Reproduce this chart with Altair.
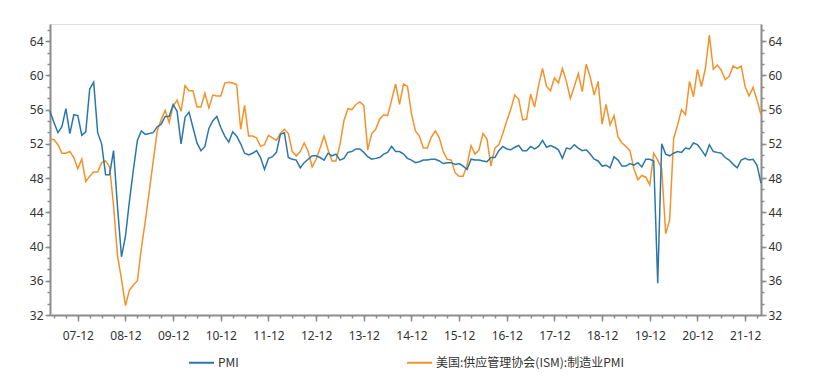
import altair as alt
import pandas as pd

# ---- data (monthly, 2007-05 .. 2022-04) ----
start_year, start_month = 2007, 5
series_names = ["PMI", "美国:供应管理协会(ISM):制造业PMI"]
colors = ["#2B77AA", "#F4922A"]

pmi = [55.8, 54.5, 53.3, 54.0, 56.1, 53.2, 55.4, 55.3,
       53.0, 53.4, 58.4, 59.2, 53.3, 52.0, 48.4, 48.4, 51.2, 44.6, 38.8, 41.2,
       45.3, 49.0, 52.4, 53.5, 53.1, 53.2, 53.3, 54.0, 54.3, 55.2, 55.2, 56.6,
       55.8, 52.0, 55.1, 55.7, 53.9, 52.1, 51.2, 51.7, 53.8, 54.7, 55.2, 53.9,
       52.9, 52.2, 53.4, 52.9, 52.0, 50.9, 50.7, 50.9, 51.2, 50.4, 49.0, 50.3,
       50.5, 51.0, 53.1, 53.3, 50.4, 50.2, 50.1, 49.2, 49.8, 50.2, 50.6, 50.6,
       50.4, 50.1, 50.9, 50.6, 50.8, 50.1, 50.3, 51.0, 51.1, 51.4, 51.4, 51.0,
       50.5, 50.2, 50.3, 50.4, 50.8, 51.0, 51.7, 51.1, 51.1, 50.8, 50.3, 50.1,
       49.8, 49.9, 50.1, 50.1, 50.2, 50.2, 50.0, 49.7, 49.8, 49.8, 49.6, 49.7,
       49.4, 49.0, 50.2, 50.1, 50.1, 50.0, 49.9, 50.4, 50.4, 51.2, 51.7, 51.4,
       51.3, 51.6, 51.8, 51.2, 51.2, 51.7, 51.4, 51.7, 52.4, 51.6, 51.8, 51.6,
       51.3, 50.3, 51.5, 51.4, 51.9, 51.5, 51.2, 51.3, 50.8, 50.2, 50.0, 49.4,
       49.5, 49.2, 50.5, 50.1, 49.4, 49.4, 49.7, 49.5, 49.8, 49.3, 50.2, 50.2,
       50.0, 35.7, 52.0, 50.8, 50.6, 50.9, 51.1, 51.0, 51.5, 51.4, 52.1, 51.9,
       51.3, 50.6, 51.9, 51.1, 51.0, 50.9, 50.4, 50.1, 49.6, 49.2, 50.1, 50.3,
       50.1, 50.2, 49.5, 47.4]

ism = [52.5, 52.5, 51.9, 50.9, 50.9, 51.1, 50.4, 49.1,
       50.2, 47.6, 48.2, 48.7, 48.7, 49.8, 50.0, 49.3, 44.8, 38.9, 36.2, 33.1,
       34.9, 35.5, 36.0, 39.8, 43.0, 46.5, 50.0, 53.5, 54.8, 55.9, 54.5, 56.4,
       57.1, 55.8, 58.8, 58.2, 58.2, 56.3, 56.3, 57.9, 56.2, 57.7, 57.6, 57.6,
       59.1, 59.2, 59.1, 58.9, 53.7, 56.5, 52.9, 52.9, 52.7, 51.7, 51.9, 53.0,
       52.7, 52.4, 53.2, 53.7, 53.2, 51.1, 50.6, 51.1, 52.1, 51.1, 49.3, 50.2,
       51.5, 52.9, 51.3, 50.0, 50.0, 51.9, 54.7, 56.1, 56.0, 56.6, 56.9, 56.5,
       51.3, 53.2, 53.7, 54.9, 55.4, 55.3, 57.1, 59.0, 56.6, 59.0, 58.7, 55.5,
       53.5, 52.9, 51.5, 51.5, 52.8, 53.5, 52.7, 51.1, 50.2, 50.1, 48.6, 48.2,
       48.2, 49.5, 51.8, 50.8, 51.3, 53.2, 52.6, 49.4, 51.5, 51.9, 53.2, 54.7,
       56.0, 57.7, 57.2, 54.8, 54.9, 57.8, 56.3, 58.8, 60.8, 58.7, 58.2, 59.7,
       59.1, 60.8, 59.3, 57.3, 58.7, 60.2, 58.1, 61.3, 59.8, 57.7, 59.3, 54.3,
       56.6, 54.2, 55.3, 52.8, 52.1, 51.7, 51.2, 49.1, 47.8, 48.3, 48.1, 47.2,
       50.9, 50.1, 49.1, 41.5, 43.1, 52.6, 54.2, 56.0, 55.4, 59.3, 57.5, 60.7,
       58.7, 60.8, 64.7, 60.7, 61.2, 60.6, 59.5, 59.9, 61.1, 60.8, 61.1, 58.7,
       57.6, 58.6, 57.1, 55.4]

y_major = [32, 36, 40, 44, 48, 52, 56, 60, 64]
y_minor = [32 + k * 4 / 3 for k in range(26)]

# ---- table ----
n = len(pmi)
idx = list(range(n))
month_of = [(start_month - 1 + i) % 12 + 1 for i in idx]
x_major = [i for i in idx if month_of[i] == 12]
x_minor = [i for i in idx if month_of[i] % 3 == 0]

df = pd.DataFrame({
    "idx": idx * 2,
    "value": pmi + ism,
    "series": [series_names[0]] * n + [series_names[1]] * n,
})

FONT = "Noto Sans"
GREY = "#8c8c8c"
LBL = "#333333"
xs = alt.Scale(domain=[0, n - 1], nice=False, zero=False)
ys = alt.Scale(domain=[32, 66], nice=False, zero=False)

label_expr = "format((2007 + floor((datum.value + 4) / 12)) % 100, '02d') + '-12'"

x_major_axis = alt.Axis(orient="bottom", values=x_major, labelExpr=label_expr, title=None,
                        grid=False, tickSize=6, tickColor=GREY, tickWidth=1.5,
                        domainColor=GREY, domainWidth=2, labelFont=FONT, labelFontSize=12,
                        labelColor=LBL, labelPadding=9)
x_minor_axis = alt.Axis(orient="bottom", values=x_minor, labels=False, title=None, grid=False,
                        domain=False, tickSize=3, tickColor=GREY, tickWidth=1.5)


def y_axis(orient, values, major):
    if major:
        return alt.Axis(orient=orient, values=values, title=None, grid=False, tickSize=5,
                        tickColor=GREY, tickWidth=1.5, domainColor=GREY, domainWidth=2,
                        labelFont=FONT, labelFontSize=12, labelColor=LBL, labelPadding=2)
    return alt.Axis(orient=orient, values=values, title=None, grid=False, labels=False,
                    domain=False, tickSize=3, tickColor=GREY, tickWidth=1.5)


color = alt.Color("series:N",
                  scale=alt.Scale(domain=series_names, range=colors),
                  legend=alt.Legend(orient="none", legendX=138, legendY=325, direction="horizontal",
                                    title=None, symbolType="stroke", symbolSize=625,
                                    symbolStrokeWidth=2, labelFont="Noto Sans CJK SC",
                                    labelFontSize=12, labelColor=LBL, columnPadding=164,
                                    labelOffset=3, labelLimit=400))

base = alt.Chart(df)

orange = base.transform_filter(alt.datum.series == series_names[1]).mark_line(strokeWidth=1.5).encode(
    x=alt.X("idx:Q", scale=xs, axis=x_major_axis),
    y=alt.Y("value:Q", scale=ys, axis=y_axis("left", y_major, True)),
    color=color,
)
blue = base.transform_filter(alt.datum.series == series_names[0]).mark_line(strokeWidth=1.5).encode(
    x=alt.X("idx:Q", scale=xs, axis=x_minor_axis),
    y=alt.Y("value:Q", scale=ys, axis=y_axis("right", y_major, True)),
    color=color,
)
ghost_l = base.transform_filter(alt.datum.series == series_names[0]).mark_line(strokeOpacity=0).encode(
    x=alt.X("idx:Q", scale=xs, axis=None),
    y=alt.Y("value:Q", scale=ys, axis=y_axis("left", y_minor, False)),
)
ghost_r = base.transform_filter(alt.datum.series == series_names[0]).mark_line(strokeOpacity=0).encode(
    x=alt.X("idx:Q", scale=xs, axis=None),
    y=alt.Y("value:Q", scale=ys, axis=y_axis("right", y_minor, False)),
)

chart = alt.layer(orange, blue, ghost_l, ghost_r).resolve_scale(
    x="independent", y="independent"
).properties(
    width=711, height=291,
    autosize=alt.AutoSizeParams(type="none"),
    padding={"left": 42, "top": 16, "right": 55, "bottom": 60},
).configure_view(stroke=None).configure(background="white")

chart.save("out.html", embed_options={"renderer": "svg", "actions": False})
